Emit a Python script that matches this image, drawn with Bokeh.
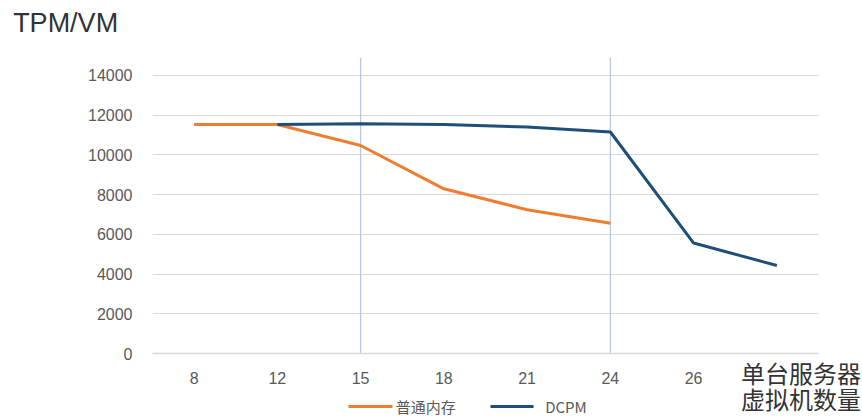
from bokeh.plotting import figure
from bokeh.models import Range1d, FactorRange, FixedTicker, ColumnDataSource
from bokeh.embed import file_html
from bokeh.resources import INLINE
from bokeh.core.properties import value

# ---- data ----
categories = ["8", "12", "15", "18", "21", "24", "26", " "]
normal_mem = [11530, 11530, 10470, 8290, 7240, 6560, float("nan"), float("nan")]
dcpm = [float("nan"), 11530, 11570, 11530, 11400, 11150, 5560, 4430]
marked_categories = ["15", "24"]
y_ticks = [0, 2000, 4000, 6000, 8000, 10000, 12000, 14000]
series_names = ["普通内存", "DCPM"]
y_title = "TPM/VM"
x_title = ["单台服务器", "虚拟机数量"]

ORANGE = "#ED7D31"
BLUE = "#1F4E79"
CJK = "Noto Sans CJK SC"
LAT = "Liberation Sans"
Y_TOP = 14900
LEG_Y = -2670

p = figure(width=862, height=417, x_range=FactorRange(*categories),
           y_range=Range1d(0, Y_TOP), output_backend="svg", toolbar_location=None,
           min_border_left=152, min_border_right=44, min_border_top=57,
           min_border_bottom=64)
p.outline_line_color = None
p.background_fill_color = "white"
p.border_fill_color = "white"

# grid
p.xgrid.grid_line_color = None
p.ygrid.ticker = FixedTicker(ticks=y_ticks[1:])
p.ygrid.grid_line_color = "#d9d9d9"
p.ygrid.grid_line_width = 1

# axes
p.yaxis.ticker = FixedTicker(ticks=y_ticks)
p.yaxis.axis_line_color = None
p.yaxis.major_tick_line_color = None
p.yaxis.minor_tick_line_color = None
p.yaxis.major_label_text_color = "#595959"
p.yaxis.major_label_text_font = LAT
p.yaxis.major_label_text_font_size = "16px"
p.yaxis.major_label_standoff = 14

p.xaxis.axis_line_color = "#d9d9d9"
p.xaxis.axis_line_width = 1.5
p.xaxis.major_tick_line_color = None
p.xaxis.minor_tick_line_color = None
p.xaxis.major_label_text_color = "#595959"
p.xaxis.major_label_text_font = LAT
p.xaxis.major_label_text_font_size = "16px"
p.xaxis.major_label_standoff = 10

# vertical marker lines
p.segment(x0=marked_categories, x1=marked_categories, y0=[0, 0], y1=[Y_TOP, Y_TOP],
          line_color="#b4c7e7", line_width=1.2)

src = ColumnDataSource(dict(x=categories, a=normal_mem, b=dcpm))
p.line("x", "a", source=src, line_color=ORANGE, line_width=3)
p.line("x", "b", source=src, line_color=BLUE, line_width=3)

# legend (drawn below the axis)
p.segment(x0=[("15", -0.146), ("21", -0.44)], x1=[("15", 0.383), ("21", 0.077)],
          y0=[LEG_Y, LEG_Y], y1=[LEG_Y, LEG_Y], line_color=[ORANGE, BLUE],
          line_width=3, level="overlay")
p.text(x=["15", "21"], y=[LEG_Y, LEG_Y], text=series_names, x_offset=[35, 18],
       text_font=value(CJK), text_font_size="15px", text_color="#595959",
       text_baseline="middle", text_align="left", level="overlay")

# chart texts (anchored to the axes, offset in pixels)
p.text(x=[categories[0]], y=[Y_TOP], text=[y_title], x_offset=-181, y_offset=-35,
       text_font=value(LAT), text_font_size="27px", text_color="#333333",
       text_baseline="middle", text_align="left", level="overlay")
p.text(x=[categories[-1], categories[-1]], y=[0, 0], text=x_title,
       x_offset=84, y_offset=[19, 45],
       text_font=value(CJK), text_font_size="24px", text_color="#333333",
       text_baseline="middle", text_align="right", level="overlay")

open("out.html", "w").write(file_html(p, INLINE))
